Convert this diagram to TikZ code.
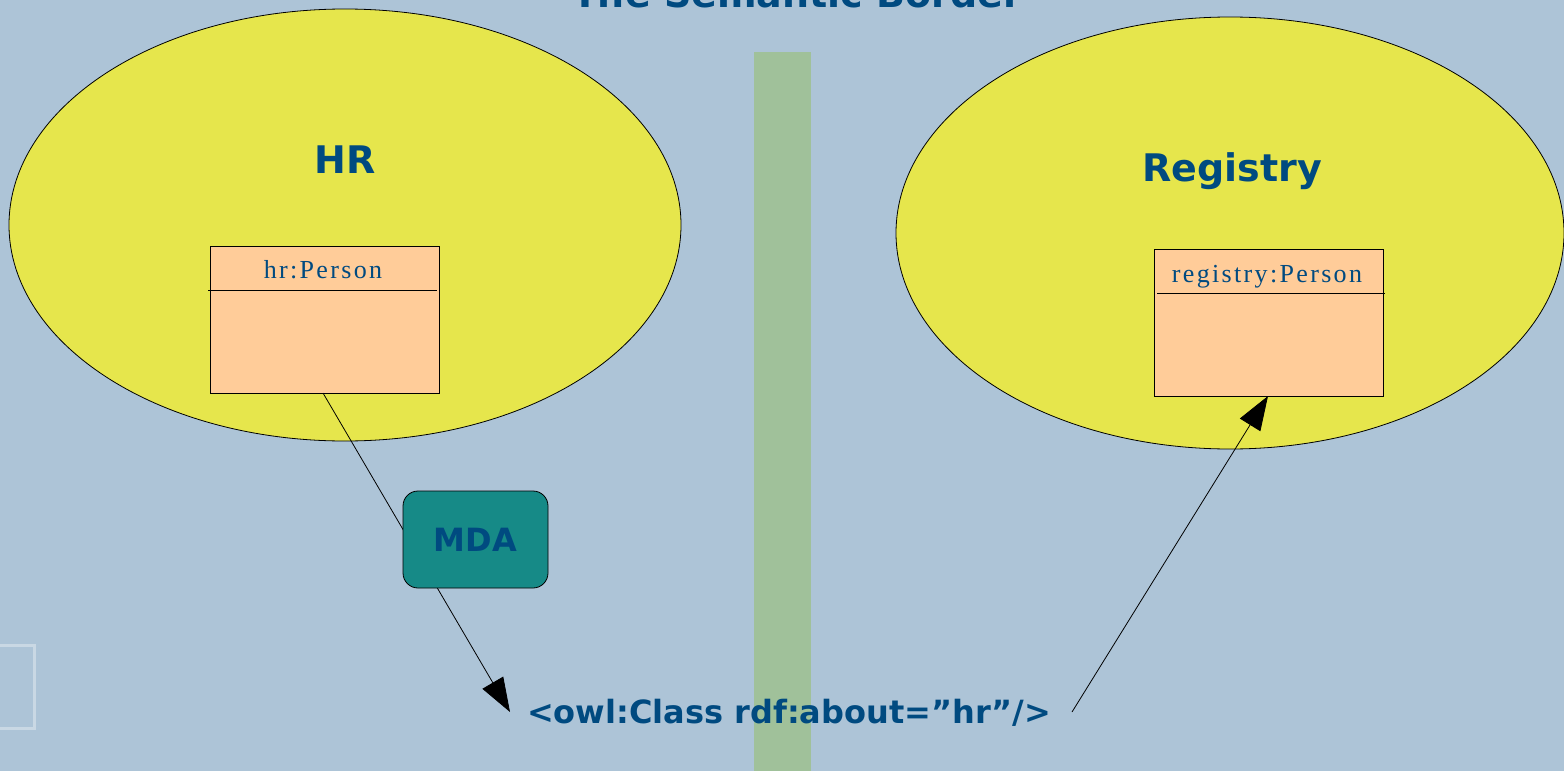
\documentclass[tikz,border=0pt]{standalone}
\usepackage{fontspec}
\setsansfont{DejaVu Sans}
\newfontfamily\lblfont{DejaVu Sans}
\newfontfamily\clsfont[LetterSpace=9]{Liberation Serif}
\usetikzlibrary{arrows.meta}
\definecolor{bgblue}{HTML}{ADC4D7}
\definecolor{ellyellow}{HTML}{E6E64C}
\definecolor{bargreen}{HTML}{A0C19A}
\definecolor{boxorange}{HTML}{FFCC99}
\definecolor{mdateal}{HTML}{168A87}
\definecolor{txtblue}{HTML}{004A80}
\tikzset{
  domainell/.style={draw=black, fill=ellyellow, line width=0.8pt},
  classbox/.style={draw=black, fill=boxorange, line width=0.8pt},
  title/.style={text=txtblue, font=\lblfont\bfseries\fontsize{38}{40}\selectfont},
  clslabel/.style={text=txtblue, font=\clsfont\fontsize{26}{28}\selectfont},
  mdabox/.style={draw=black, fill=mdateal, rounded corners=15pt, line width=0.8pt, minimum width=145pt, minimum height=97pt, text=txtblue, font=\lblfont\bfseries\fontsize{32}{34}\selectfont},
  conn/.style={draw=black, line width=0.8pt, -{Triangle[length=34pt,width=24pt]}},
}
\begin{document}
\begin{tikzpicture}[x=1pt,y=-1pt]
\useasboundingbox (0,0) rectangle (1564,771);
\fill[bgblue] (0,0) rectangle (1564,771);
% faint leftover frame
\draw[white, opacity=0.35, line width=3pt] (-10,645) -- (34,645) -- (34,728) -- (-10,728);
% title (cut off at top, as in the reference)
\node[title, anchor=base] (ttl) at (797,8) {The Semantic Border};
% green border bar
\fill[bargreen] (754,52) rectangle (811,771);
% domains
\draw[domainell] (345,225) ellipse [x radius=336, y radius=216];
\draw[domainell] (1230,233) ellipse [x radius=334, y radius=216];
\node[title, anchor=base] (hr) at (345,173) {HR};
\node[title, anchor=base] (reg) at (1232,181) {Registry};
% class boxes
\node[classbox, minimum width=229pt, minimum height=147pt, anchor=north west, inner sep=0] (hrp) at (210,246) {};
\draw[line width=0.8pt] (208,290) -- (437,290);
\node[clslabel, anchor=base] (hrpl) at (323,278) {hr:Person};
\node[classbox, minimum width=229pt, minimum height=147pt, anchor=north west, inner sep=0] (regp) at (1154,249) {};
\draw[line width=0.8pt] (1157,293) -- (1385,293);
\node[clslabel, anchor=base] (regpl) at (1267,282) {registry:Person};
% bottom text
\node[title, font=\lblfont\bfseries\fontsize{32}{34}\selectfont, anchor=base] (owl) at (789,723) {<owl:Class rdf:about=”hr”/>};
\coordinate (hrbot) at (323,393);
\coordinate (tip1) at (510,712);
\coordinate (from2) at (1072,712);
\coordinate (regbot) at (1268,396);
\draw[conn] (hrbot) -- (tip1);
\draw[conn] (from2) -- (regbot);
% MDA
\node[mdabox] (mda) at (475.5,539.5) {MDA};
\end{tikzpicture}
\end{document}
